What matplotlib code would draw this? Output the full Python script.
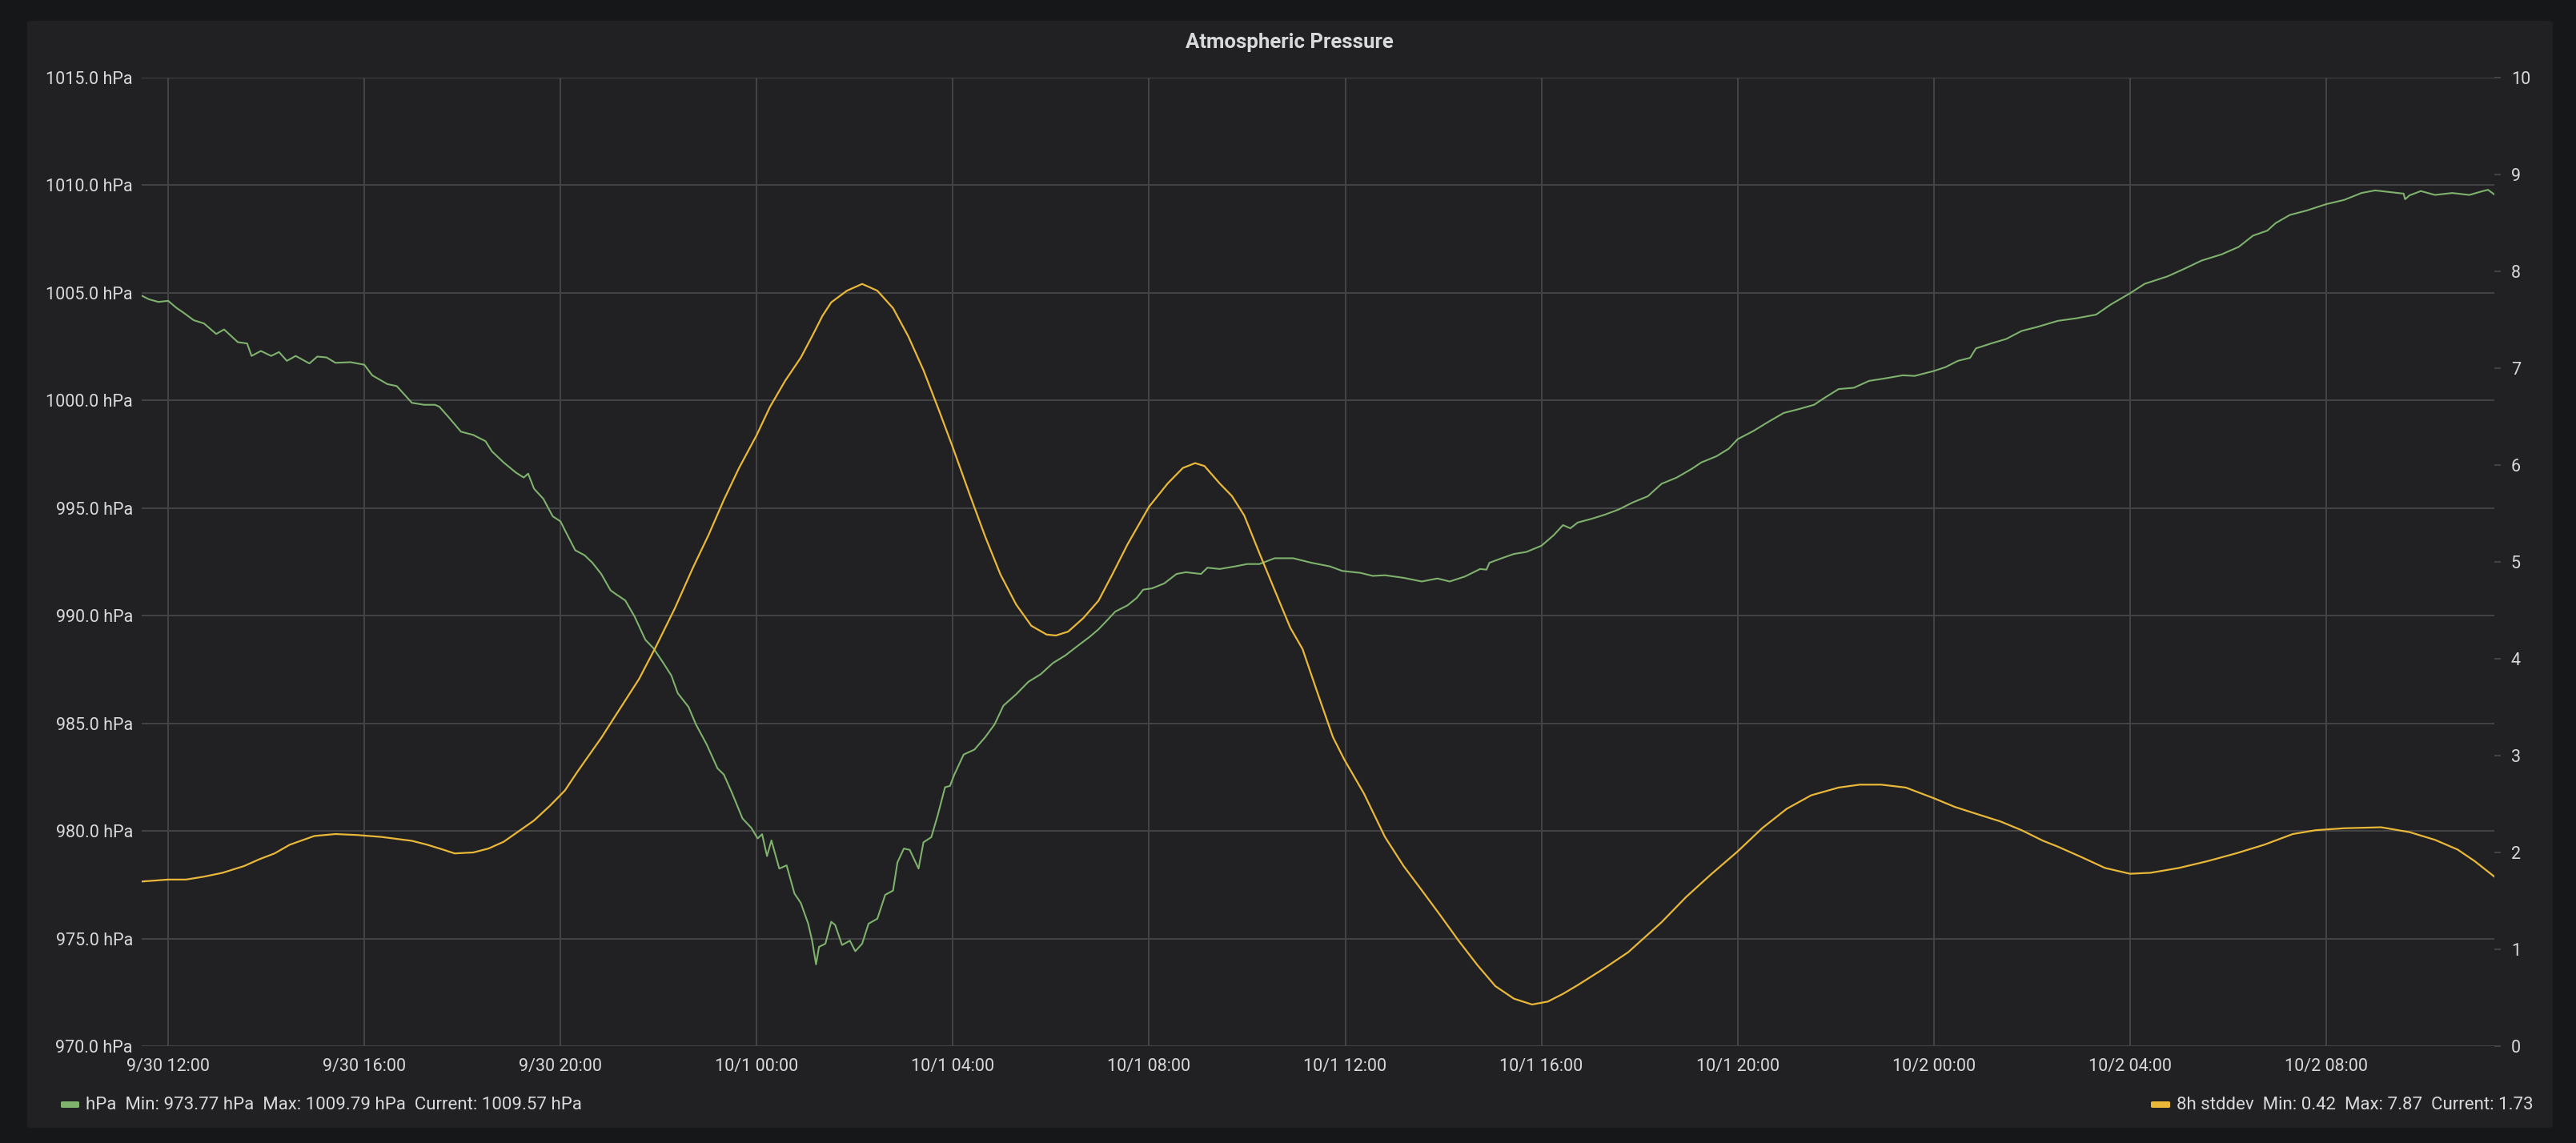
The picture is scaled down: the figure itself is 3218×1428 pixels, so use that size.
import matplotlib
matplotlib.use("Agg")
import matplotlib.pyplot as plt
import matplotlib.dates as mdates
from matplotlib.patches import FancyBboxPatch
import pandas as pd

# hours after 9/30 12:00
p_hours = [-0.54, -0.39, -0.2, 0.0, 0.17, 0.3, 0.52, 0.73, 0.98, 1.14, 1.42, 1.61, 1.7, 1.89,
           2.1, 2.26, 2.42, 2.6, 2.88, 3.04, 3.23, 3.41, 3.72, 4.0, 4.16, 4.47, 4.66, 4.97,
           5.22, 5.44, 5.53, 5.72, 5.97, 6.22, 6.47, 6.6, 6.84, 7.09, 7.25, 7.34, 7.46, 7.65,
           7.84, 8.0, 8.09, 8.3, 8.49, 8.65, 8.83, 9.02, 9.13, 9.32, 9.51, 9.73, 9.89, 10.08,
           10.26, 10.39, 10.61, 10.76, 10.98, 11.2, 11.33, 11.49, 11.71, 11.89, 12.02, 12.11,
           12.21, 12.3, 12.46, 12.61, 12.77, 12.9, 13.05, 13.13, 13.21, 13.27, 13.4, 13.52,
           13.6, 13.74, 13.9, 14.01, 14.15, 14.28, 14.46, 14.62, 14.78, 14.87, 15.0, 15.12,
           15.3, 15.4, 15.56, 15.69, 15.84, 15.94, 16.03, 16.22, 16.44, 16.66, 16.85, 17.03,
           17.29, 17.54, 17.79, 18.04, 18.29, 18.54, 18.79, 18.97, 19.13, 19.31, 19.56, 19.75,
           19.88, 20.06, 20.31, 20.56, 20.75, 21.06, 21.19, 21.44, 21.75, 22.0, 22.25, 22.56,
           22.94, 23.31, 23.69, 23.94, 24.31, 24.56, 24.81, 25.19, 25.56, 25.88, 26.13, 26.44,
           26.75, 26.88, 26.94, 27.19, 27.44, 27.69, 28.0, 28.25, 28.44, 28.59, 28.74, 29.02,
           29.3, 29.58, 29.86, 30.17, 30.45, 30.76, 31.07, 31.26, 31.57, 31.82, 32.0, 32.32,
           32.63, 32.94, 33.25, 33.56, 33.75, 34.06, 34.37, 34.68, 34.99, 35.37, 35.61, 36.0,
           36.24, 36.49, 36.74, 36.86, 37.17, 37.48, 37.79, 38.1, 38.53, 38.91, 39.31, 39.61,
           40.0, 40.3, 40.77, 41.11, 41.46, 41.87, 42.22, 42.51, 42.8, 42.97, 43.26, 43.61,
           44.0, 44.37, 44.72, 45.0, 45.35, 45.58, 45.61, 45.7, 45.93, 46.22, 46.57, 46.92,
           47.15, 47.3, 47.43]
pressure = [1004.87, 1004.7, 1004.58, 1004.63, 1004.3, 1004.1, 1003.73, 1003.58, 1003.09, 1003.3,
            1002.71, 1002.65, 1002.07, 1002.3, 1002.07, 1002.25, 1001.84, 1002.07, 1001.72, 1002.04,
            1002.0, 1001.75, 1001.78, 1001.66, 1001.17, 1000.76, 1000.67, 999.89, 999.8, 999.8,
            999.71, 999.22, 998.55, 998.4, 998.11, 997.64, 997.12, 996.65, 996.42, 996.6, 995.9,
            995.43, 994.62, 994.38, 993.97, 993.04, 992.81, 992.46, 991.94, 991.18, 991.0, 990.71,
            989.96, 988.88, 988.5, 987.86, 987.22, 986.4, 985.76, 984.95, 984.02, 982.91, 982.62,
            981.8, 980.58, 980.14, 979.65, 979.85, 978.83, 979.56, 978.25, 978.4, 977.09, 976.65,
            975.69, 974.9, 973.8, 974.61, 974.76, 975.78, 975.63, 974.7, 974.9, 974.41, 974.76,
            975.69, 975.92, 977.03, 977.23, 978.54, 979.18, 979.12, 978.25, 979.47, 979.71, 980.72,
            982.03, 982.09, 982.62, 983.55, 983.78, 984.36, 984.95, 985.82, 986.35, 986.93, 987.28,
            987.8, 988.15, 988.59, 989.02, 989.37, 989.75, 990.19, 990.48, 990.83, 991.21, 991.27,
            991.5, 991.94, 992.02, 991.94, 992.23, 992.17, 992.29, 992.4, 992.4, 992.67, 992.67,
            992.46, 992.29, 992.08, 991.99, 991.85, 991.88, 991.76, 991.59, 991.73, 991.59, 991.82,
            992.17, 992.14, 992.46, 992.67, 992.87, 992.96, 993.25, 993.74, 994.21, 994.06, 994.33,
            994.5, 994.7, 994.94, 995.26, 995.55, 996.13, 996.42, 996.83, 997.12, 997.41, 997.76,
            998.2, 998.58, 999.01, 999.42, 999.6, 999.8, 1000.09, 1000.53, 1000.59, 1000.91,
            1001.02, 1001.17, 1001.14, 1001.37, 1001.55, 1001.84, 1001.98, 1002.42, 1002.65,
            1002.86, 1003.23, 1003.41, 1003.7, 1003.82, 1003.99, 1004.46, 1004.98, 1005.42,
            1005.77, 1006.12, 1006.5, 1006.79, 1007.14, 1007.66, 1007.89, 1008.24, 1008.62,
            1008.83, 1009.12, 1009.32, 1009.64, 1009.76, 1009.67, 1009.61, 1009.35, 1009.53,
            1009.73, 1009.55, 1009.64, 1009.55, 1009.7, 1009.79, 1009.57]

s_hours = [-0.54, 0.0, 0.36, 0.73, 1.11, 1.55, 1.86, 2.17, 2.48, 2.98, 3.41, 3.85, 4.35, 4.97,
           5.28, 5.6, 5.84, 6.22, 6.53, 6.84, 7.15, 7.46, 7.78, 8.09, 8.34, 8.52, 8.84, 9.13,
           9.6, 9.95, 10.33, 10.7, 11.02, 11.33, 11.64, 12.0, 12.27, 12.58, 12.9, 13.15, 13.34,
           13.52, 13.84, 14.15, 14.46, 14.78, 15.09, 15.4, 15.72, 16.0, 16.34, 16.66, 16.97,
           17.29, 17.6, 17.91, 18.1, 18.35, 18.66, 18.97, 19.25, 19.56, 20.0, 20.38, 20.69,
           20.94, 21.13, 21.44, 21.69, 21.94, 22.25, 22.56, 22.88, 23.13, 23.44, 23.75, 23.98,
           24.38, 24.81, 25.19, 25.56, 25.94, 26.31, 26.69, 27.06, 27.44, 27.81, 28.13, 28.44,
           28.74, 29.27, 29.77, 30.45, 30.95, 31.45, 32.0, 32.5, 33.0, 33.5, 34.06, 34.49,
           34.93, 35.43, 36.0, 36.43, 36.86, 37.36, 37.79, 38.23, 38.53, 39.02, 39.49, 40.0,
           40.42, 41.0, 41.58, 42.16, 42.74, 43.32, 43.79, 44.37, 45.12, 45.7, 46.22, 46.68,
           47.03, 47.43]
stddev = [1.70, 1.72, 1.72, 1.75, 1.79, 1.86, 1.93, 1.99, 2.08, 2.17, 2.19, 2.18, 2.16, 2.12,
          2.08, 2.03, 1.99, 2.0, 2.04, 2.11, 2.22, 2.33, 2.48, 2.64, 2.83, 2.96, 3.19, 3.42,
          3.79, 4.13, 4.52, 4.94, 5.28, 5.64, 5.97, 6.31, 6.60, 6.87, 7.11, 7.35, 7.54, 7.68,
          7.80, 7.87, 7.80, 7.62, 7.33, 6.98, 6.56, 6.18, 5.70, 5.26, 4.87, 4.56, 4.34, 4.25,
          4.24, 4.28, 4.42, 4.60, 4.87, 5.18, 5.57, 5.81, 5.97, 6.02, 5.99, 5.81, 5.68, 5.48,
          5.09, 4.71, 4.32, 4.10, 3.64, 3.19, 2.96, 2.61, 2.16, 1.86, 1.61, 1.35, 1.09, 0.84,
          0.62, 0.49, 0.43, 0.46, 0.54, 0.63, 0.80, 0.97, 1.28, 1.54, 1.77, 2.01, 2.25, 2.45,
          2.59, 2.67, 2.70, 2.70, 2.67, 2.56, 2.47, 2.40, 2.32, 2.23, 2.12, 2.06, 1.95, 1.84,
          1.78, 1.79, 1.84, 1.91, 1.99, 2.08, 2.19, 2.23, 2.25, 2.26, 2.21, 2.13, 2.03, 1.91,
          1.75]

left_ticks = [970, 975, 980, 985, 990, 995, 1000, 1005, 1010, 1015]
right_ticks = list(range(0, 11))
title = "Atmospheric Pressure"
legend_left = "hPa  Min: 973.77 hPa  Max: 1009.79 hPa  Current: 1009.57 hPa"
legend_right = "8h stddev  Min: 0.42  Max: 7.87  Current: 1.73"

GREEN = "#7eb26d"
YELLOW = "#eab839"
TEXT = "#d8d9da"
GRID = "#444447"

plt.rcParams["font.family"] = ["Roboto", "DejaVu Sans"]

base = pd.Timestamp("2018-09-30 12:00")
p_time = base + pd.to_timedelta(p_hours, unit="h")
s_time = base + pd.to_timedelta(s_hours, unit="h")

W, H = 3218, 1428
fig = plt.figure(figsize=(W / 100, H / 100), dpi=100, facecolor="#161719")

panel = FancyBboxPatch((34 / W, 19 / H), 3155 / W, 1383 / H,
                       boxstyle="round,pad=0,rounding_size=0.002",
                       transform=fig.transFigure, facecolor="#212124",
                       edgecolor="none", zorder=-10)
fig.patches.append(panel)

ax = fig.add_axes([177 / W, 1 - 1307 / H, (3116 - 177) / W, 1210 / H])
ax.set_facecolor("none")
ax2 = ax.twinx()
ax2.set_facecolor("none")

ax.plot(p_time, pressure, color=GREEN, lw=1.5, zorder=3)
ax2.plot(s_time, stddev, color=YELLOW, lw=1.6, zorder=3)

ax.set_xlim(p_time[0], p_time[-1])
ax.set_ylim(970, 1015)
ax2.set_ylim(0, 10)

ax.set_yticks(left_ticks)
ax.set_yticklabels([f"{v:.1f} hPa" for v in left_ticks])
ax2.set_yticks(right_ticks)

ax.xaxis.set_major_locator(mdates.HourLocator(byhour=[0, 4, 8, 12, 16, 20]))
ax.xaxis.set_major_formatter(mdates.DateFormatter("%-m/%-d %H:%M"))

ax.grid(True, color=GRID, lw=1.4)
ax.set_axisbelow(True)
for a in (ax, ax2):
    for sp in a.spines.values():
        sp.set_visible(False)

ax.tick_params(axis="y", length=0, pad=8, labelsize=15.5, labelcolor=TEXT)
ax.tick_params(axis="x", length=0, pad=11, labelsize=15.5, labelcolor=TEXT)
ax2.tick_params(axis="y", length=6, width=1.4, color=GRID, pad=9,
                labelsize=15.5, labelcolor=TEXT)

fig.text(1611 / W, 1 - 53 / H, title, ha="center", va="center",
         fontsize=18.5, fontweight="semibold", color=TEXT)

# legend
fig.patches.append(FancyBboxPatch((76 / W, 1 - 1384 / H), 23 / W, 8 / H,
                                  boxstyle="round,pad=0,rounding_size=0.0008",
                                  transform=fig.transFigure, facecolor=GREEN,
                                  edgecolor="none"))
fig.text(107 / W, 1 - 1380 / H, legend_left, ha="left", va="center",
         fontsize=16, color=TEXT)
fig.patches.append(FancyBboxPatch((2687 / W, 1 - 1384 / H), 24 / W, 8 / H,
                                  boxstyle="round,pad=0,rounding_size=0.0008",
                                  transform=fig.transFigure, facecolor=YELLOW,
                                  edgecolor="none"))
fig.text(2719 / W, 1 - 1380 / H, legend_right, ha="left", va="center",
         fontsize=16, color=TEXT)

fig.savefig("out.png", dpi=100, facecolor=fig.get_facecolor())
